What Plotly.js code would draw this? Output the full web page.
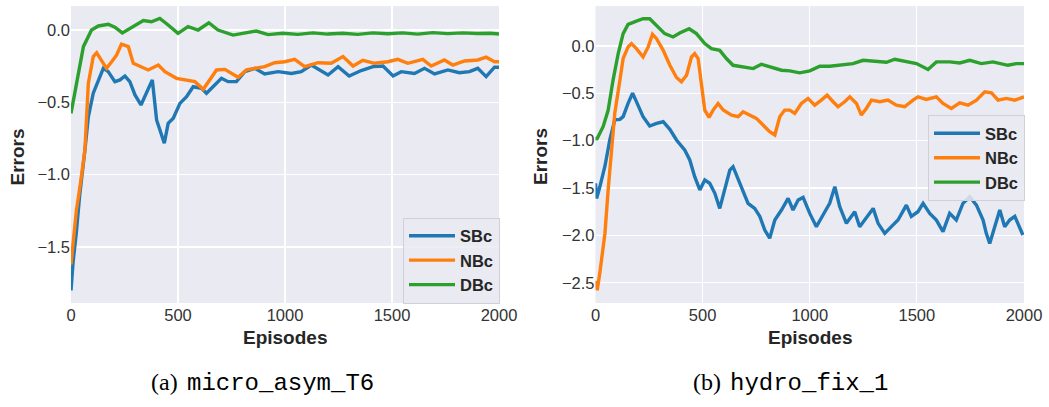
<!DOCTYPE html>
<html>
<head>
<meta charset="utf-8">
<script src="https://cdn.plot.ly/plotly-3.0.1.min.js"></script>
<style>html,body{margin:0;padding:0;background:#fff;}#chart{width:1049px;height:407px;}</style>
</head>
<body>
<div id="chart"></div>
<script>
// ---------- (a) micro_asym_T6 ----------
const a_sbc_x = [0,10,25,40,65,81,104,128,151,174,205,229,252,275,299,327,353,380,400,423,436,454,478,509,540,571,610,633,664,703,734,773,812,859,905,968,1030,1076,1123,1201,1248,1300,1356,1411,1458,1505,1543,1605,1652,1699,1761,1815,1862,1901,1940,1979,2000];
const a_sbc_y = [-1.80,-1.60,-1.40,-1.15,-0.83,-0.60,-0.437,-0.345,-0.265,-0.288,-0.357,-0.345,-0.318,-0.357,-0.449,-0.518,-0.426,-0.345,-0.622,-0.726,-0.783,-0.645,-0.61,-0.507,-0.461,-0.392,-0.403,-0.437,-0.392,-0.334,-0.357,-0.357,-0.288,-0.265,-0.304,-0.288,-0.30,-0.288,-0.242,-0.311,-0.253,-0.318,-0.28,-0.253,-0.249,-0.318,-0.288,-0.30,-0.265,-0.304,-0.276,-0.295,-0.288,-0.265,-0.322,-0.257,-0.257];

const a_nbc_x = [0,10,25,45,65,81,104,120,143,166,190,213,236,268,291,322,361,408,439,493,532,579,618,641,680,719,750,781,820,859,905,952,999,1045,1092,1154,1216,1271,1318,1364,1418,1481,1527,1574,1644,1683,1745,1784,1839,1901,1940,1979,2000];
const a_nbc_y = [-1.62,-1.45,-1.25,-1.05,-0.83,-0.37,-0.184,-0.157,-0.207,-0.265,-0.219,-0.173,-0.097,-0.115,-0.23,-0.253,-0.276,-0.242,-0.288,-0.334,-0.346,-0.357,-0.41,-0.357,-0.276,-0.272,-0.30,-0.327,-0.276,-0.265,-0.253,-0.226,-0.219,-0.203,-0.253,-0.226,-0.23,-0.184,-0.249,-0.21,-0.23,-0.219,-0.203,-0.23,-0.203,-0.249,-0.207,-0.242,-0.214,-0.207,-0.188,-0.219,-0.219];

const a_dbc_x = [0,15,34,58,96,128,174,205,240,283,338,376,415,454,500,547,594,644,687,757,812,866,921,990,1060,1130,1200,1270,1340,1410,1480,1550,1620,1690,1760,1830,1900,1960,2000];
const a_dbc_y = [-0.576,-0.45,-0.30,-0.115,0.0,0.028,0.04,0.02,-0.02,0.02,0.065,0.057,0.08,0.035,-0.023,0.023,0.0,0.05,0.0,-0.035,-0.023,-0.007,-0.032,-0.022,-0.03,-0.02,-0.028,-0.022,-0.03,-0.02,-0.026,-0.02,-0.028,-0.018,-0.025,-0.02,-0.024,-0.022,-0.028];

// ---------- (b) hydro_fix_1 ----------
const b_sbc_x = [0,5,20,44,67,90,114,129,152,173,191,222,253,285,316,347,378,417,440,463,487,510,533,557,580,603,627,642,666,689,712,743,767,790,813,837,868,899,922,946,969,1000,1031,1062,1093,1117,1140,1171,1210,1233,1264,1296,1319,1350,1381,1412,1451,1474,1505,1529,1560,1591,1622,1653,1684,1715,1747,1778,1809,1824,1840,1863,1887,1910,1933,1957,1980,1995];
const b_sbc_y = [-1.45,-1.61,-1.49,-1.27,-0.99,-0.78,-0.775,-0.746,-0.606,-0.5,-0.588,-0.746,-0.845,-0.817,-0.80,-0.88,-0.993,-1.10,-1.204,-1.38,-1.52,-1.415,-1.45,-1.556,-1.715,-1.52,-1.31,-1.275,-1.40,-1.52,-1.662,-1.715,-1.80,-1.944,-2.03,-1.838,-1.732,-1.609,-1.732,-1.627,-1.599,-1.768,-1.908,-1.785,-1.662,-1.486,-1.697,-1.873,-1.75,-1.908,-1.82,-1.715,-1.873,-1.979,-1.908,-1.838,-1.68,-1.80,-1.75,-1.662,-1.768,-1.838,-1.961,-1.768,-1.838,-1.662,-1.592,-1.68,-1.838,-1.979,-2.085,-1.908,-1.732,-1.908,-1.838,-1.80,-1.926,-1.996];

const b_nbc_x = [0,8,20,44,59,75,90,114,129,152,168,191,222,246,266,285,316,347,378,401,425,448,463,479,495,510,530,549,572,596,635,666,689,720,751,782,813,837,860,883,907,930,961,992,1023,1054,1081,1109,1132,1163,1187,1218,1241,1264,1288,1327,1365,1404,1443,1482,1505,1544,1591,1622,1661,1700,1739,1778,1817,1848,1879,1918,1957,2000];
const b_nbc_y = [-2.48,-2.58,-2.40,-1.98,-1.52,-1.06,-0.71,-0.36,-0.133,-0.01,0.025,-0.028,-0.116,-0.01,0.123,0.077,-0.046,-0.204,-0.333,-0.379,-0.309,-0.116,-0.081,-0.133,-0.396,-0.677,-0.754,-0.677,-0.607,-0.677,-0.73,-0.747,-0.695,-0.73,-0.765,-0.835,-0.905,-0.94,-0.747,-0.677,-0.677,-0.712,-0.607,-0.554,-0.625,-0.572,-0.519,-0.589,-0.642,-0.589,-0.537,-0.607,-0.73,-0.66,-0.572,-0.589,-0.572,-0.625,-0.642,-0.572,-0.537,-0.565,-0.537,-0.607,-0.66,-0.6,-0.625,-0.572,-0.484,-0.495,-0.572,-0.554,-0.572,-0.537];

const b_dbc_x = [0,5,36,59,82,106,129,152,191,222,253,285,323,362,393,437,471,510,541,580,611,642,681,736,774,821,868,907,953,1000,1047,1093,1155,1202,1249,1311,1358,1397,1443,1498,1552,1591,1653,1700,1747,1801,1855,1925,1964,2000];
const b_dbc_y = [-0.96,-0.99,-0.85,-0.68,-0.36,-0.08,0.13,0.228,0.263,0.288,0.288,0.218,0.13,0.095,0.137,0.182,0.13,0.025,-0.028,-0.046,-0.133,-0.204,-0.221,-0.239,-0.193,-0.221,-0.256,-0.263,-0.284,-0.263,-0.214,-0.214,-0.193,-0.186,-0.151,-0.158,-0.172,-0.14,-0.161,-0.186,-0.249,-0.168,-0.168,-0.179,-0.151,-0.186,-0.168,-0.204,-0.186,-0.186];

const seriesNames = ['SBc','NBc','DBc'];
const colors = ['#1f77b4','#ff7f0e','#2ca02c'];
const xTicks = [0,500,1000,1500,2000];
const captions = ['(a)','micro_asym_T6','(b)','hydro_fix_1'];

const W = 1049, H = 407;
const px = v => v / W, py = v => 1 - v / H;

function mk(x, y, i, xa, ya, leg) {
  return {x: x, y: y, type: 'scatter', mode: 'lines', name: seriesNames[i],
    line: {color: colors[i], width: 3.4}, xaxis: xa, yaxis: ya, legend: leg};
}
const traces = [
  mk(a_sbc_x, a_sbc_y, 0, 'x', 'y', 'legend'),
  mk(a_nbc_x, a_nbc_y, 1, 'x', 'y', 'legend'),
  mk(a_dbc_x, a_dbc_y, 2, 'x', 'y', 'legend'),
  mk(b_sbc_x, b_sbc_y, 0, 'x2', 'y2', 'legend2'),
  mk(b_nbc_x, b_nbc_y, 1, 'x2', 'y2', 'legend2'),
  mk(b_dbc_x, b_dbc_y, 2, 'x2', 'y2', 'legend2')
];

const tickFont = {family: 'Liberation Sans, Arial, sans-serif', size: 16.5, color: '#333333'};
function xax(d) {
  return {domain: d, range: [0, 2000], tickvals: xTicks, showgrid: true, gridcolor: '#ffffff', gridwidth: 1.2,
    zeroline: false, showline: false, ticks: '', tickfont: tickFont, fixedrange: true};
}
function yax(r, anchor) {
  return {domain: [py(303), py(6)], range: r, dtick: 0.5, tick0: 0, tickformat: '.1f', showgrid: true,
    gridcolor: '#ffffff', gridwidth: 1.2, zeroline: false, showline: false, ticks: '',
    tickfont: tickFont, anchor: anchor, fixedrange: true};
}
const titleFont = {family: 'Liberation Sans, Arial, sans-serif', size: 19, color: '#262626'};
const legFont = {family: 'Liberation Sans, Arial, sans-serif', size: 16.5, color: '#262626', weight: 'bold'};
const capSerif = 'Liberation Serif, DejaVu Serif, serif';
const capMono = 'Liberation Mono, DejaVu Sans Mono, monospace';

function ann(text, x, y, font, extra) {
  return Object.assign({text: text, x: px(x), y: py(y), xref: 'paper', yref: 'paper',
    xanchor: 'center', yanchor: 'middle', showarrow: false, font: font}, extra || {});
}

const layout = {
  width: W, height: H, margin: {l: 0, r: 0, t: 0, b: 0},
  paper_bgcolor: '#ffffff', plot_bgcolor: '#eaeaf2', showlegend: true,
  xaxis: Object.assign(xax([px(71), px(499)]), {anchor: 'y'}),
  yaxis: yax([-1.887, 0.166], 'x'),
  xaxis2: Object.assign(xax([px(595.5), px(1024)]), {anchor: 'y2'}),
  yaxis2: yax([-2.714, 0.422], 'x2'),
  legend: {x: px(500), y: py(303.5), xanchor: 'right', yanchor: 'bottom', bgcolor: 'rgba(234,234,242,0.85)',
    bordercolor: '#d0d0d6', borderwidth: 1, font: legFont, itemwidth: 46},
  legend2: {x: px(1025), y: py(115), xanchor: 'right', yanchor: 'top', bgcolor: 'rgba(234,234,242,0.85)',
    bordercolor: '#d0d0d6', borderwidth: 1, font: legFont, itemwidth: 46},
  annotations: [
    ann('<b>Errors</b>', 16.5, 157, titleFont, {textangle: -90}),
    ann('<b>Episodes</b>', 285, 337, titleFont),
    ann('<b>Errors</b>', 540, 157, titleFont, {textangle: -90}),
    ann('<b>Episodes</b>', 810, 337, titleFont),
    ann(captions[0], 180, 382, {family: capSerif, size: 24, color: '#000'}, {xanchor: 'right'}),
    ann(captions[1], 185, 383, {family: capMono, size: 24, color: '#000'}, {xanchor: 'left'}),
    ann(captions[2], 723, 382, {family: capSerif, size: 24, color: '#000'}, {xanchor: 'right'}),
    ann(captions[3], 728, 383, {family: capMono, size: 24, color: '#000'}, {xanchor: 'left'})
  ]
};
Plotly.newPlot('chart', traces, layout, {displayModeBar: false, staticPlot: true});
</script>
</body>
</html>
